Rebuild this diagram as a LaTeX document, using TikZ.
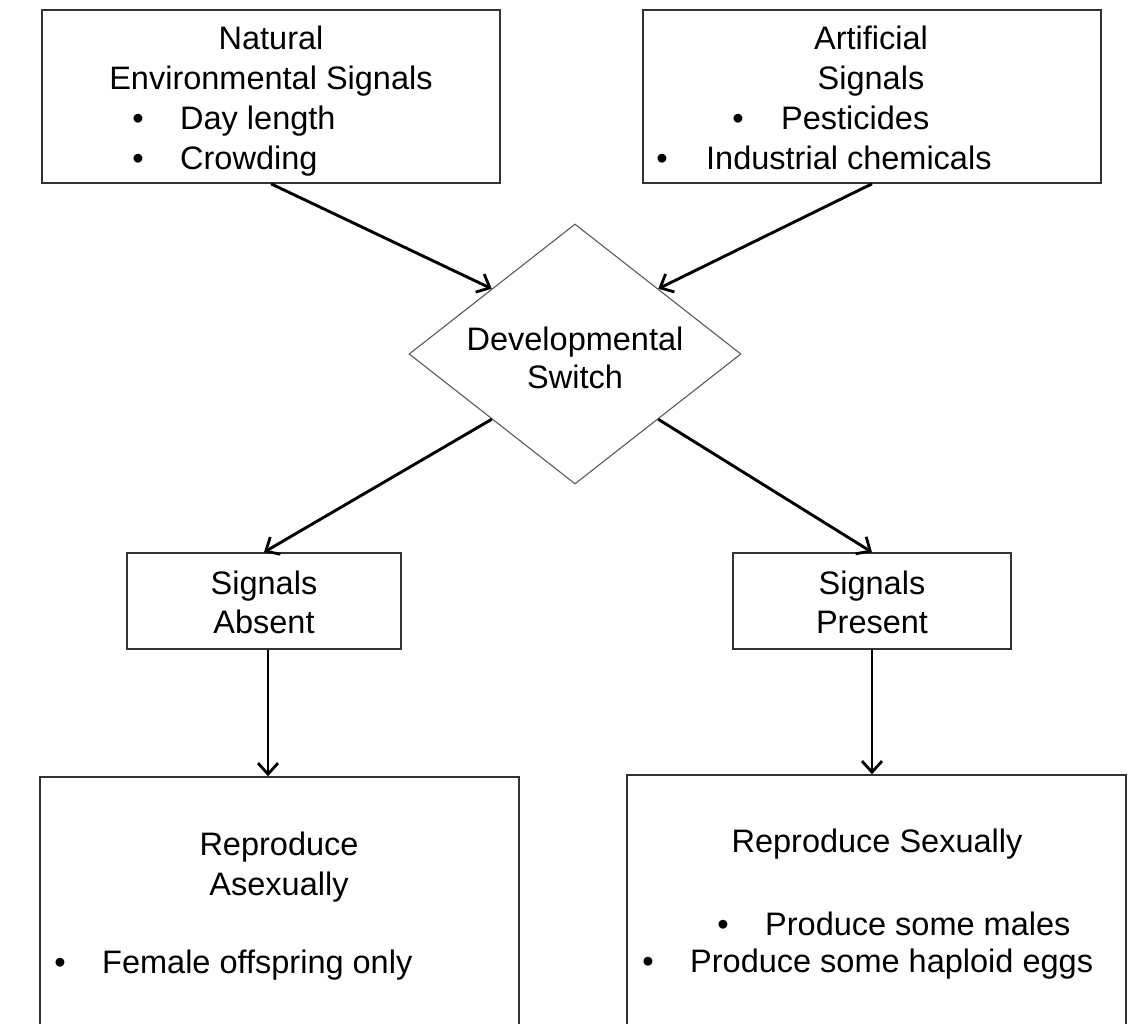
\documentclass[tikz,border=0pt]{standalone}
\usepackage{fontspec}
\setmainfont{Liberation Sans}
\usetikzlibrary{shapes.geometric,arrows.meta}
\begin{document}
\begin{tikzpicture}[x=1pt,y=-1pt,
  box/.style={draw=black!80,line width=1.6pt,rectangle,inner sep=0},
  sw/.style={draw=black!65,line width=1.1pt,shape=diamond,inner sep=0},
  txt/.style={font=\fontsize{32.5}{40}\selectfont,inner sep=0,text=black},
  arr/.style={line width=2.9pt,-{Straight Barb[length=11pt,width=20pt,line width=2.8pt]}}]
\path[use as bounding box] (0,0) rectangle (1140,1024);
\clip (0,0) rectangle (1140,1024);
% boxes
\node[box,minimum width=458,minimum height=173] (nat) at (271,96.5) {};
\node[box,minimum width=458,minimum height=173] (art) at (872,96.5) {};
\node[sw,minimum width=332,minimum height=260] (dev) at (575,354) {};
\node[box,minimum width=274,minimum height=96] (abs) at (264,601) {};
\node[box,minimum width=278,minimum height=96] (pres) at (872,601) {};
\node[box,minimum width=479,minimum height=263] (asex) at (279.5,908.5) {};
\node[box,minimum width=499,minimum height=265] (sex) at (876.5,907.5) {};
% texts
\node[txt,anchor=base] (t1) at (271,50) {Natural};
\node[txt,anchor=base] (t2) at (271,90) {Environmental Signals};
\node[txt,anchor=base] (b1) at (138,130) {•};
\node[txt,anchor=base west] (t3) at (180,130) {Day length};
\node[txt,anchor=base] (b2) at (138,170) {•};
\node[txt,anchor=base west] (t4) at (180,170) {Crowding};
\node[txt,anchor=base] (t5) at (871,50) {Artificial};
\node[txt,anchor=base] (t6) at (871,90) {Signals};
\node[txt,anchor=base] (b3) at (738,130) {•};
\node[txt,anchor=base west] (t7) at (781,130) {Pesticides};
\node[txt,anchor=base] (b4) at (662,170) {•};
\node[txt,anchor=base west] (t8) at (706,170) {Industrial chemicals};
\node[txt,anchor=base] (t9) at (575,350) {Developmental};
\node[txt,anchor=base] (t10) at (575,388) {Switch};
\node[txt,anchor=base] (t11) at (264,594) {Signals};
\node[txt,anchor=base] (t12) at (264,633) {Absent};
\node[txt,anchor=base] (t13) at (872,594) {Signals};
\node[txt,anchor=base] (t14) at (872,633) {Present};
\node[txt,anchor=base] (t15) at (279,855) {Reproduce};
\node[txt,anchor=base] (t16) at (279,895) {Asexually};
\node[txt,anchor=base] (b5) at (60,973) {•};
\node[txt,anchor=base west] (t17) at (102,973) {Female offspring only};
\node[txt,anchor=base] (t18) at (877,852) {Reproduce Sexually};
\node[txt,anchor=base] (b6) at (723,935) {•};
\node[txt,anchor=base west] (t19) at (765,935) {Produce some males};
\node[txt,anchor=base] (b7) at (648,972) {•};
\node[txt,anchor=base west] (t20) at (690,972) {Produce some haploid eggs};
% arrows
\draw[arr] (nat.south) -- (dev.north west);
\draw[arr] (art.south) -- (dev.north east);
\draw[arr] (dev.south west) -- (abs.north);
\draw[arr] (dev.south east) -- (pres.north);
\draw[arr] ([xshift=4pt]abs.south) -- ([xshift=4pt]abs.south |- asex.north);
\draw[arr] (pres.south) -- (pres.south |- sex.north);
\end{tikzpicture}
\end{document}
